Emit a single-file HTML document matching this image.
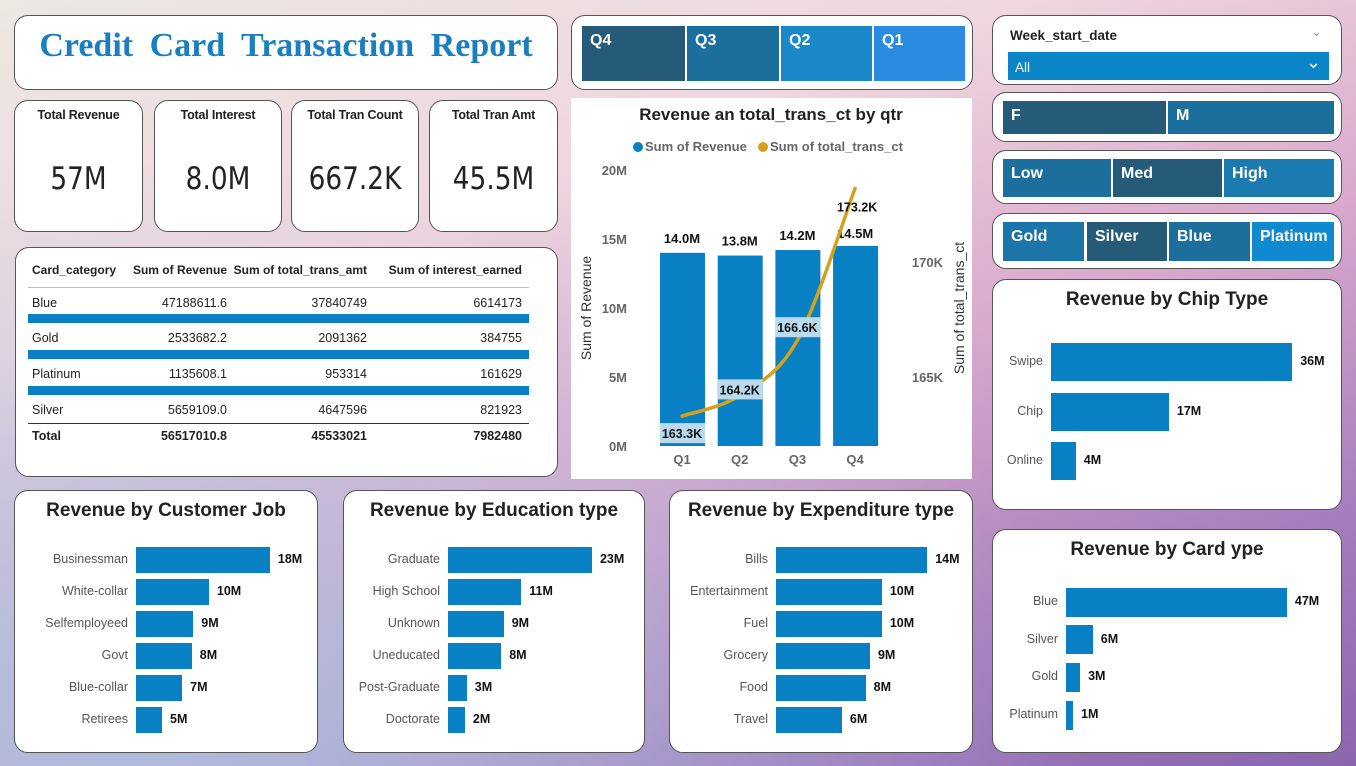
<!DOCTYPE html>
<html><head><meta charset="utf-8">
<style>
*{box-sizing:border-box;margin:0;padding:0}
body{width:1356px;height:766px;overflow:hidden;position:relative;font-family:"Liberation Sans",sans-serif;
background:linear-gradient(160deg,#ece8e2 0%,#efd6df 30%,#d9a8cc 55%,#a57dbd 80%,#8a66ad 100%);}
#bg2{position:absolute;left:0;top:0;width:1356px;height:766px;background:radial-gradient(ellipse at 10% 95%,rgba(170,195,225,.85),rgba(170,195,225,0) 55%);}
.card{position:absolute;background:#fff;border:1px solid #555;border-radius:14px}
.abs{position:absolute}
.kt{position:absolute;left:0;right:0;top:7px;text-align:center;font-weight:bold;font-size:12.5px;color:#222;letter-spacing:-0.2px}
.kv{position:absolute;left:-20px;right:-20px;top:60px;text-align:center;font-size:31px;color:#222;font-family:"DejaVu Sans",sans-serif;transform:scaleX(0.85)}
.btn{position:absolute;color:#fff;font-weight:bold;font-size:16px;padding:6px 0 0 8px}
.ct{position:absolute;left:0;right:0;text-align:center;font-weight:bold;font-size:19px;color:#222}
.tb{position:absolute;font-size:12.5px;color:#222}
.r{text-align:right}
</style></head><body>
<div id="bg2"></div>

<div class="card" style="left:14px;top:15px;width:544px;height:75px">
<div class="abs" style="left:0;right:0;top:11px;text-align:center;font-family:'Liberation Serif',serif;font-weight:bold;font-size:34px;color:#1a7fc0;word-spacing:8px">Credit Card Transaction Report</div></div>

<div class="card" style="left:14px;top:100px;width:129px;height:132px"><div class="kt">Total Revenue</div><div class="kv">57M</div></div>
<div class="card" style="left:154px;top:100px;width:128px;height:132px"><div class="kt">Total Interest</div><div class="kv">8.0M</div></div>
<div class="card" style="left:291px;top:100px;width:128px;height:132px"><div class="kt">Total Tran Count</div><div class="kv">667.2K</div></div>
<div class="card" style="left:429px;top:100px;width:129px;height:132px"><div class="kt">Total Tran Amt</div><div class="kv">45.5M</div></div>

<div class="card" style="left:15px;top:247px;width:543px;height:230px">
<div class="tb" style="left:16px;top:15px;font-weight:bold;font-size:12px">Card_category</div>
<div class="tb r" style="left:100px;width:111px;top:15px;font-weight:bold;font-size:12px">Sum of Revenue</div>
<div class="tb r" style="left:210px;width:141px;top:15px;font-weight:bold;font-size:12px">Sum of total_trans_amt</div>
<div class="tb r" style="left:350px;width:156px;top:15px;font-weight:bold;font-size:12px">Sum of interest_earned</div>
<div class="abs" style="left:12px;top:39px;width:501px;height:1px;background:#9cc"></div>
<div class="tb" style="left:16px;top:48px">Blue</div><div class="tb r" style="left:100px;width:111px;top:48px">47188611.6</div><div class="tb r" style="left:210px;width:141px;top:48px">37840749</div><div class="tb r" style="left:350px;width:156px;top:48px">6614173</div>
<div class="abs" style="left:12px;top:66px;width:501px;height:9px;background:#0a7fc4"></div>
<div class="tb" style="left:16px;top:83px">Gold</div><div class="tb r" style="left:100px;width:111px;top:83px">2533682.2</div><div class="tb r" style="left:210px;width:141px;top:83px">2091362</div><div class="tb r" style="left:350px;width:156px;top:83px">384755</div>
<div class="abs" style="left:12px;top:102px;width:501px;height:9px;background:#0a7fc4"></div>
<div class="tb" style="left:16px;top:119px">Platinum</div><div class="tb r" style="left:100px;width:111px;top:119px">1135608.1</div><div class="tb r" style="left:210px;width:141px;top:119px">953314</div><div class="tb r" style="left:350px;width:156px;top:119px">161629</div>
<div class="abs" style="left:12px;top:138px;width:501px;height:9px;background:#0a7fc4"></div>
<div class="tb" style="left:16px;top:155px">Silver</div><div class="tb r" style="left:100px;width:111px;top:155px">5659109.0</div><div class="tb r" style="left:210px;width:141px;top:155px">4647596</div><div class="tb r" style="left:350px;width:156px;top:155px">821923</div>
<div class="abs" style="left:12px;top:175px;width:501px;height:1px;background:#333"></div>
<div class="tb" style="left:16px;top:181px;font-weight:bold">Total</div><div class="tb r" style="left:100px;width:111px;top:181px;font-weight:bold">56517010.8</div><div class="tb r" style="left:210px;width:141px;top:181px;font-weight:bold">45533021</div><div class="tb r" style="left:350px;width:156px;top:181px;font-weight:bold">7982480</div>
</div>

<div class="card" style="left:571px;top:15px;width:402px;height:75px">
<div class="btn" style="left:10px;top:10px;width:103px;height:55px;background:#255a78">Q4</div>
<div class="btn" style="left:115px;top:10px;width:92px;height:55px;background:#1c6f9c">Q3</div>
<div class="btn" style="left:209px;top:10px;width:91px;height:55px;background:#1a88c8">Q2</div>
<div class="btn" style="left:302px;top:10px;width:91px;height:55px;background:#2a8ce0">Q1</div>
</div>

<div class="abs" style="left:571px;top:98px;width:401px;height:381px;background:#fff">
<svg id="combo" width="401" height="381" style="position:absolute;left:0;top:0" font-family="Liberation Sans, sans-serif"></svg>
</div>

<div class="card" style="left:992px;top:15px;width:350px;height:70px">
<div class="abs" style="left:17px;top:12px;font-weight:bold;font-size:13.5px;color:#222">Week_start_date</div>
<div class="abs" style="left:318px;top:8px;color:#999;font-size:13px">&#8964;</div>
<div class="abs" style="left:15px;top:36px;width:321px;height:28px;background:#0a86c8;color:#fff;font-size:13.5px;padding:8px 0 0 7px">All<span style="position:absolute;right:8px;top:0;font-size:18px">&#8964;</span></div>
</div>

<div class="card" style="left:992px;top:92px;width:350px;height:50px">
<div class="btn" style="left:10px;top:8px;width:163px;height:33px;background:#255a78">F</div>
<div class="btn" style="left:175px;top:8px;width:166px;height:33px;background:#1c6f9c">M</div>
</div>
<div class="card" style="left:992px;top:150px;width:350px;height:54px">
<div class="btn" style="left:10px;top:8px;width:108px;height:38px;background:#1c6f9c">Low</div>
<div class="btn" style="left:120px;top:8px;width:109px;height:38px;background:#255a78">Med</div>
<div class="btn" style="left:231px;top:8px;width:110px;height:38px;background:#1b7bb0">High</div>
</div>
<div class="card" style="left:992px;top:213px;width:350px;height:56px">
<div class="btn" style="left:10px;top:8px;width:81px;height:39px;background:#1b75a8">Gold</div>
<div class="btn" style="left:94px;top:8px;width:80px;height:39px;background:#255a78">Silver</div>
<div class="btn" style="left:176px;top:8px;width:81px;height:39px;background:#1c6f9c">Blue</div>
<div class="btn" style="left:259px;top:8px;width:82px;height:39px;background:#0f8ad0">Platinum</div>
</div>

<div class="card" id="chip" style="left:992px;top:279px;width:350px;height:231px"><div class="ct" style="top:9px">Revenue by Chip Type</div></div>
<div class="card" id="cardt" style="left:992px;top:529px;width:350px;height:224px"><div class="ct" style="top:9px">Revenue by Card ype</div></div>
<div class="card" id="job" style="left:14px;top:490px;width:304px;height:263px"><div class="ct" style="top:9px">Revenue by Customer Job</div></div>
<div class="card" id="edu" style="left:343px;top:490px;width:302px;height:263px"><div class="ct" style="top:9px">Revenue by Education type</div></div>
<div class="card" id="exp" style="left:669px;top:490px;width:304px;height:263px"><div class="ct" style="top:9px">Revenue by Expenditure type</div></div>

<script>
// combo chart data
const quarters=["Q1","Q2","Q3","Q4"];
const revenue=[14.0,13.8,14.2,14.5];
const revenueLabels=["14.0M","13.8M","14.2M","14.5M"];
const transCt=[163.3,164.2,166.6,173.2];
const transLabels=["163.3K","164.2K","166.6K","173.2K"];
const leftTicks=[0,5,10,15,20];
const rightTicks=[165,170];

// bar chart data
const jobCats=["Businessman","White-collar","Selfemployeed","Govt","Blue-collar","Retirees"];
const jobVals=[18.0,9.8,7.7,7.5,6.2,3.5];
const jobLabels=["18M","10M","9M","8M","7M","5M"];
const eduCats=["Graduate","High School","Unknown","Uneducated","Post-Graduate","Doctorate"];
const eduVals=[23,11.7,8.9,8.5,3.0,2.7];
const eduLabels=["23M","11M","9M","8M","3M","2M"];
const expCats=["Bills","Entertainment","Fuel","Grocery","Food","Travel"];
const expVals=[14,9.8,9.8,8.7,8.3,6.1];
const expLabels=["14M","10M","10M","9M","8M","6M"];
const chipCats=["Swipe","Chip","Online"];
const chipVals=[36,17.6,3.7];
const chipLabels=["36M","17M","4M"];
const cardCats=["Blue","Silver","Gold","Platinum"];
const cardVals=[47,5.7,3.0,1.5];
const cardLabels=["47M","6M","3M","1M"];

const NS="http://www.w3.org/2000/svg";
const svg=document.getElementById('combo');
function mk(tag,attrs,parent,text){const e=document.createElementNS(NS,tag);for(const k in attrs)e.setAttribute(k,attrs[k]);if(text!==undefined)e.textContent=text;(parent||svg).appendChild(e);return e;}
const yL=v=>348-v*13.8;
const yR=v=>279-(v-165)*23;
const xC=i=>111+i*57.7;

let t=mk('text',{x:200,y:22,'text-anchor':'middle','font-size':17,'font-weight':'bold',fill:'#222'},svg,'Revenue an total_trans_ct by qtr');

mk('circle',{cx:67,cy:49,r:5,fill:'#0a80c4'});
mk('text',{x:74,y:53,'font-size':13,'font-weight':'bold',fill:'#666'},svg,'Sum of Revenue');
mk('circle',{cx:192,cy:49,r:5,fill:'#d4a11c'});
mk('text',{x:199,y:53,'font-size':13,'font-weight':'bold',fill:'#666'},svg,'Sum of total_trans_ct');
leftTicks.forEach(v=>{const e=mk('text',{x:56,y:yL(v)+5,'text-anchor':'end','font-size':13,'font-weight':'bold',fill:'#666'},svg,v+'M');
});
rightTicks.forEach(v=>{const e=mk('text',{x:372,y:yR(v)+5,'text-anchor':'end','font-size':13,'font-weight':'bold',fill:'#666'},svg,v+'K');
});
mk('text',{transform:'translate(20,210) rotate(-90)','text-anchor':'middle','font-size':14,fill:'#333'},svg,'Sum of Revenue');
mk('text',{transform:'translate(393,210) rotate(-90)','text-anchor':'middle','font-size':14,fill:'#333'},svg,'Sum of total_trans_ct');
revenue.forEach((v,i)=>{
 const r=mk('rect',{x:xC(i)-22,y:yL(v),width:45,height:348-yL(v),fill:'#0a80c4'});
 
 
 const yy = i===3 ? yL(v)-8 : yL(v)-10;
 mk('text',{x:xC(i),y:yy,'text-anchor':'middle','font-size':13,'font-weight':'bold',fill:'#111'},svg,revenueLabels[i]);
 const q=mk('text',{x:xC(i),y:366,'text-anchor':'middle','font-size':13,'font-weight':'bold',fill:'#666'},svg,quarters[i]);
 
});
const pts=transCt.map((v,i)=>[xC(i),yR(v)]);
let d='M'+pts[0][0]+','+pts[0][1];
for(let i=0;i<pts.length-1;i++){
 const p0=pts[Math.max(i-1,0)],p1=pts[i],p2=pts[i+1],p3=pts[Math.min(i+2,pts.length-1)];
 const c1=[p1[0]+(p2[0]-p0[0])/6,p1[1]+(p2[1]-p0[1])/6],c2=[p2[0]-(p3[0]-p1[0])/6,p2[1]-(p3[1]-p1[1])/6];
 d+=` C${c1[0]},${c1[1]} ${c2[0]},${c2[1]} ${p2[0]},${p2[1]}`;
}
const ln=mk('path',{d:d,fill:'none',stroke:'#d4a11c','stroke-width':3.5,'stroke-linecap':'round'});

transCt.forEach((v,i)=>{
 if(i<3){
  const ly=yR(v)+(i===0?18:i===1?-5:-12);
  mk('rect',{x:xC(i)-22,y:ly-11,width:45,height:20,fill:'#bcdaee'});
  mk('text',{x:xC(i),y:ly+4,'text-anchor':'middle','font-size':12.5,'font-weight':'bold',fill:'#111'},svg,transLabels[i]);
 } else {
  mk('text',{x:xC(i)+2,y:yR(v)+23,'text-anchor':'middle','font-size':12.5,'font-weight':'bold',fill:'#111'},svg,transLabels[i]);
 }
});

function hbar(id,cats,vals,labels,x0,scale,y0,step,h){
 const box=document.getElementById(id);
 cats.forEach((c,i)=>{
  const cy=y0+i*step;
  const lab=document.createElement('div');
  
  
  lab.style.cssText=`position:absolute;right:${box.offsetWidth-2-x0+8}px;top:${cy-8}px;font-size:12.5px;color:#555;white-space:nowrap`;
  lab.textContent=c;box.appendChild(lab);
  const b=document.createElement('div');
  
  
  const w=vals[i]*scale;
  b.style.cssText=`position:absolute;left:${x0}px;top:${cy-h/2}px;width:${w}px;height:${h}px;background:#0a80c4`;
  box.appendChild(b);
  const v=document.createElement('div');
  
  
  v.style.cssText=`position:absolute;left:${x0+w+8}px;top:${cy-8}px;font-size:12.5px;font-weight:bold;color:#111`;
  v.textContent=labels[i];box.appendChild(v);
 });
}
hbar('job',jobCats,jobVals,jobLabels,136-15,7.44,560-491,32,26);
hbar('edu',eduCats,eduVals,eduLabels,448-344,6.26,560-491,32,26);
hbar('exp',expCats,expVals,expLabels,776-670,10.8,560-491,32,26);
hbar('chip',chipCats,chipVals,chipLabels,1051-993,6.7,362-280,49.5,38);
hbar('cardt',cardCats,cardVals,cardLabels,1066-993,4.7,602-530,37.7,29);
</script>
</body></html>
